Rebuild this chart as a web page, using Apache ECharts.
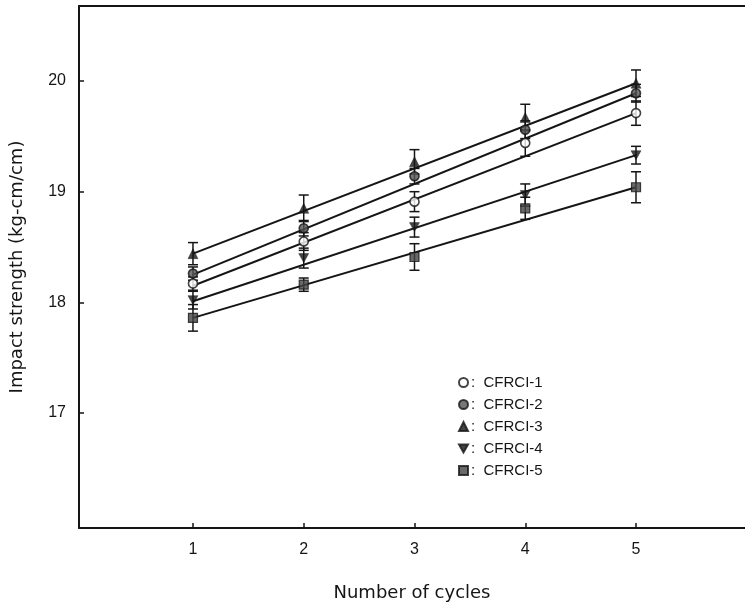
<!DOCTYPE html>
<html>
<head>
<meta charset="utf-8">
<title>Impact strength vs number of cycles</title>
<script src="https://cdn.jsdelivr.net/npm/echarts@6/dist/echarts.min.js"></script>
<style>
  html, body { margin: 0; padding: 0; background: #fff; }
  #chart { width: 745px; height: 604px; }
</style>
</head>
<body>
<div id="chart"></div>
<script>
// Number of thermal cycles
const cycles = [1, 2, 3, 4, 5];

// Series names
const names = ['CFRCI-1', 'CFRCI-2', 'CFRCI-3', 'CFRCI-4', 'CFRCI-5'];

// Mean impact strength (kg-cm/cm)
const cfrci1 = [18.17, 18.55, 18.91, 19.44, 19.71];
const cfrci2 = [18.26, 18.67, 19.14, 19.56, 19.89];
const cfrci3 = [18.44, 18.85, 19.27, 19.67, 19.98];
const cfrci4 = [18.02, 18.40, 18.68, 18.97, 19.33];
const cfrci5 = [17.86, 18.16, 18.41, 18.85, 19.04];

// Error bar half-widths
const err1 = [0.06, 0.08, 0.09, 0.12, 0.11];
const err2 = [0.06, 0.07, 0.07, 0.08, 0.08];
const err3 = [0.10, 0.12, 0.11, 0.12, 0.12];
const err4 = [0.08, 0.09, 0.09, 0.10, 0.08];
const err5 = [0.12, 0.06, 0.12, 0.10, 0.14];

// Straight-line trend for each series, value at cycle 1 and cycle 5
const trendStart = [18.15, 18.25, 18.44, 18.01, 17.86];
const trendEnd   = [19.71, 19.89, 19.98, 19.33, 19.04];

// Axis tick values
const xTicks = [1, 2, 3, 4, 5];
const yTicks = [17, 18, 19, 20];

const means = [cfrci1, cfrci2, cfrci3, cfrci4, cfrci5];
const errs = [err1, err2, err3, err4, err5];

const INK = '#151515';
const FONT = '"Liberation Sans", Arial, sans-serif';
const NAME_FONT = '"DejaVu Sans", "Liberation Sans", sans-serif';

const DOWN_TRIANGLE = 'path://M0,0 L10,0 L5,9 Z';

const markerStyles = [
  { symbol: 'circle', size: 9, itemStyle: { color: '#ffffff', borderColor: INK, borderWidth: 1.6 } },
  { symbol: 'circle', size: 9, itemStyle: { color: '#555555', borderColor: INK, borderWidth: 1.6 } },
  { symbol: 'triangle', size: 10, itemStyle: { color: INK, borderColor: INK, borderWidth: 0.5 } },
  { symbol: DOWN_TRIANGLE, size: [10, 9], itemStyle: { color: INK, borderColor: INK, borderWidth: 0.5 } },
  { symbol: 'rect', size: 9, itemStyle: { color: '#444444', borderColor: INK, borderWidth: 1.2 } }
];

const series = [];

// Trend lines
names.forEach((n, i) => {
  series.push({
    type: 'line',
    name: n + ' trend',
    data: [[cycles[0], trendStart[i]], [cycles[cycles.length - 1], trendEnd[i]]],
    showSymbol: false,
    symbol: 'none',
    silent: true,
    lineStyle: { color: INK, width: 2 },
    z: 2
  });
});

// Error bars with end caps
names.forEach((n, i) => {
  series.push({
    type: 'custom',
    name: n + ' error',
    silent: true,
    data: cycles.map((c, k) => [c, means[i][k] - errs[i][k], means[i][k] + errs[i][k]]),
    renderItem: function (params, api) {
      const lo = api.coord([api.value(0), api.value(1)]);
      const hi = api.coord([api.value(0), api.value(2)]);
      const cap = 5;
      const st = { stroke: INK, lineWidth: 1.5 };
      return {
        type: 'group',
        children: [
          { type: 'line', shape: { x1: lo[0], y1: lo[1], x2: hi[0], y2: hi[1] }, style: st },
          { type: 'line', shape: { x1: lo[0] - cap, y1: lo[1], x2: lo[0] + cap, y2: lo[1] }, style: st },
          { type: 'line', shape: { x1: hi[0] - cap, y1: hi[1], x2: hi[0] + cap, y2: hi[1] }, style: st }
        ]
      };
    },
    z: 3
  });
});

// Data points
names.forEach((n, i) => {
  const m = markerStyles[i];
  series.push({
    type: 'scatter',
    name: n,
    data: cycles.map((c, k) => [c, means[i][k]]),
    symbol: m.symbol,
    symbolSize: m.size,
    itemStyle: m.itemStyle,
    z: 4
  });
});

const chart = echarts.init(document.getElementById('chart'), null, { renderer: 'canvas' });

chart.setOption({
  backgroundColor: '#ffffff',
  animation: false,
  textStyle: { fontFamily: FONT, color: INK },
  grid: { left: 79, right: 0, top: 6, bottom: 76, containLabel: false, outerBoundsMode: 'none' },
  legend: {
    data: names,
    orient: 'vertical',
    left: 453,
    top: 370,
    itemWidth: 9,
    itemHeight: 9,
    itemGap: 7,
    selectedMode: false,
    formatter: ':  {name}',
    textStyle: { fontFamily: FONT, fontSize: 15, color: INK, padding: [0, 0, 0, -2] }
  },
  xAxis: [
    {
      type: 'value',
      min: -0.029,
      max: 5.984,
      position: 'bottom',
      name: 'Number of cycles',
      nameLocation: 'middle',
      nameGap: 56,
      nameTextStyle: { fontFamily: NAME_FONT, fontSize: 18, color: INK },
      axisLine: { show: true, onZero: false, lineStyle: { color: INK, width: 2 } },
      axisTick: { show: true, inside: true, length: 5, customValues: xTicks, lineStyle: { color: INK, width: 1.5 } },
      axisLabel: { show: true, customValues: xTicks, margin: 14, fontSize: 16, color: INK, fontFamily: FONT },
      splitLine: { show: false }
    },
    {
      type: 'value',
      min: -0.029,
      max: 5.984,
      position: 'top',
      axisLine: { show: true, onZero: false, lineStyle: { color: INK, width: 2 } },
      axisTick: { show: false },
      axisLabel: { show: false },
      splitLine: { show: false }
    }
  ],
  yAxis: {
    type: 'value',
    min: 15.961,
    max: 20.678,
    name: 'Impact strength (kg-cm/cm)',
    nameLocation: 'middle',
    nameGap: 53,
    nameRotate: 90,
    nameTextStyle: { fontFamily: NAME_FONT, fontSize: 18, color: INK },
    axisLine: { show: true, onZero: false, lineStyle: { color: INK, width: 2 } },
    axisTick: { show: true, inside: true, length: 5, customValues: yTicks, lineStyle: { color: INK, width: 1.5 } },
    axisLabel: { show: true, customValues: yTicks, margin: 13, fontSize: 16, color: INK, fontFamily: FONT },
    splitLine: { show: false }
  },
  series: series
});
</script>
</body>
</html>
